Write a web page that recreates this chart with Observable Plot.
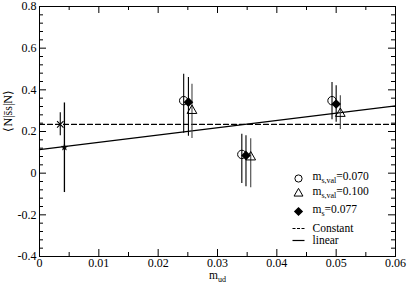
<!DOCTYPE html>
<html>
<head>
<meta charset="utf-8">
<script src="https://cdn.jsdelivr.net/npm/d3@7"></script>
<script src="https://cdn.jsdelivr.net/npm/@observablehq/plot@0.6"></script>
<style>
  html, body { margin: 0; padding: 0; background: white; }
  svg, svg text { font-family: "Liberation Serif", "Times New Roman", serif !important; }
</style>
</head>
<body>
<div id="chart"></div>
<script>
// ---- data ----
const xTicks = [0, 0.01, 0.02, 0.03, 0.04, 0.05, 0.06];
const xTickLabels = ["0", "0.01", "0.02", "0.03", "0.04", "0.05", "0.06"];
const xMinor = [0.005, 0.015, 0.025, 0.035, 0.045, 0.055];
const yTicks = [-0.4, -0.2, 0, 0.2, 0.4, 0.6, 0.8];
const yTickLabels = ["-0.4", "-0.2", "0", "0.2", "0.4", "0.6", "0.8"];
const yMinor = [-0.36, -0.32, -0.28, -0.24, -0.16, -0.12, -0.08, -0.04, 0.04, 0.08, 0.12, 0.16,
                0.24, 0.28, 0.32, 0.36, 0.44, 0.48, 0.52, 0.56, 0.64, 0.68, 0.72, 0.76];

// m_s,val = 0.070 (open circles)
const circX  = [0.0243, 0.0341, 0.0493];
const circY  = [0.348, 0.090, 0.348];
const circLo = [0.192, -0.050, 0.257];
const circHi = [0.475, 0.187, 0.435];
// m_s,val = 0.100 (open triangles)
const triX  = [0.0257, 0.0356, 0.0507];
const triY  = [0.300, 0.077, 0.286];
const triLo = [0.167, -0.070, 0.210];
const triHi = [0.427, 0.165, 0.372];
// m_s = 0.077 (filled diamonds)
const diaX  = [0.0251, 0.0348, 0.0500];
const diaY  = [0.341, 0.085, 0.332];
const diaLo = [0.177, -0.065, 0.245];
const diaHi = [0.459, 0.180, 0.420];

// chiral extrapolations
const constPt = {x: 0.0035, y: 0.234, lo: 0.180, hi: 0.290};
const linPt   = {x: 0.0042, y: 0.124, lo: -0.093, hi: 0.337};

// fit lines
const constLineX = [0, 0.06];
const constLineY = [0.234, 0.234];
const linLineX = [0, 0.06];
const linLineY = [0.113, 0.323];

const legendLabels = ["m_{s,val}=0.070", "m_{s,val}=0.100", "m_{s}=0.077", "Constant", "linear"];
const yLabel = "\u27E8N|s\u0304s|N\u27E9";
const xLabel = "m_{ud}";

// ---- build tables ----
const zip = (xs, ys, lo, hi) => xs.map((x, i) => ({x, y: ys[i], lo: lo[i], hi: hi[i]}));
const circ = zip(circX, circY, circLo, circHi);
const tri = zip(triX, triY, triLo, triHi);
const dia = zip(diaX, diaY, diaLo, diaHi);
const constLine = constLineX.map((x, i) => ({x, y: constLineY[i]}));
const linLine = linLineX.map((x, i) => ({x, y: linLineY[i]}));

const W = 407, H = 283, mL = 39, mR = 12, mT = 6, mB = 27;
const fw = W - mL - mR, fh = H - mT - mB;
const major = 7, minor = 4;
const FONT = "Liberation Serif, Times New Roman, serif";

const lineSym = {draw(ctx) { ctx.moveTo(-6, 0); ctx.lineTo(6, 0); }};

const legendRows = [-78, -63, -45, -28, -16];
const symDx = -97, textDx = -83;

const legendMarks = [
  Plot.dot([0], {frameAnchor: "bottom-right", dx: symDx, dy: legendRows[0], symbol: "circle", r: 3.6, stroke: "black", fill: "none", strokeWidth: 1}),
  Plot.dot([0], {frameAnchor: "bottom-right", dx: symDx, dy: legendRows[1], symbol: "triangle", r: 3.3, stroke: "black", fill: "none", strokeWidth: 1}),
  Plot.dot([0], {frameAnchor: "bottom-right", dx: symDx, dy: legendRows[2], symbol: "diamond2", r: 3.2, fill: "black", stroke: "black"}),
  Plot.dot([0], {frameAnchor: "bottom-right", dx: symDx, dy: legendRows[3], symbol: lineSym, stroke: "black", strokeDasharray: "3,1.5", strokeWidth: 1}),
  Plot.dot([0], {frameAnchor: "bottom-right", dx: symDx, dy: legendRows[4], symbol: lineSym, stroke: "black", strokeWidth: 1.2}),
  ...legendLabels.map((t, i) => Plot.text([t], {text: d => d, frameAnchor: "bottom-right", dx: textDx, dy: legendRows[i] - (i < 3 ? 2 : 0), textAnchor: "start", lineAnchor: "middle", fontSize: 11.5, fontFamily: FONT, fill: "black"}))
];

const chart = Plot.plot({
  width: W, height: H,
  marginLeft: mL, marginRight: mR, marginTop: mT, marginBottom: mB,
  style: "font-family: 'Liberation Serif', 'Times New Roman', serif; font-size: 12px; color: black; background: white;",
  x: {domain: [0, 0.06]},
  y: {domain: [-0.4, 0.8]},
  marks: [
    // ticks (inward)
    Plot.tickX(xTicks, {x: d => d, insetTop: fh - major, stroke: "black"}),
    Plot.tickX(xTicks, {x: d => d, insetBottom: fh - major, stroke: "black"}),
    Plot.tickX(xMinor, {x: d => d, insetTop: fh - minor, stroke: "black"}),
    Plot.tickX(xMinor, {x: d => d, insetBottom: fh - minor, stroke: "black"}),
    Plot.tickY(yTicks, {y: d => d, insetRight: fw - major, stroke: "black"}),
    Plot.tickY(yTicks, {y: d => d, insetLeft: fw - major, stroke: "black"}),
    Plot.tickY(yMinor, {y: d => d, insetRight: fw - minor, stroke: "black"}),
    Plot.tickY(yMinor, {y: d => d, insetLeft: fw - minor, stroke: "black"}),
    Plot.axisX({ticks: xTicks, tickSize: 0, tickPadding: 2, tickFormat: d => xTickLabels[xTicks.indexOf(d)], fontSize: 12, fontFamily: FONT, label: null}),
    Plot.axisY({ticks: yTicks, tickSize: 0, tickPadding: 3, tickFormat: d => yTickLabels[yTicks.indexOf(d)], fontSize: 12, fontFamily: FONT, label: null}),
    // fit lines
    Plot.line(constLine, {x: "x", y: "y", stroke: "black", strokeWidth: 1.2, strokeDasharray: "5,3"}),
    Plot.line(linLine, {x: "x", y: "y", stroke: "black", strokeWidth: 1.2}),
    // error bars
    Plot.ruleX(circ, {x: "x", y1: "lo", y2: "hi", stroke: "black", strokeWidth: 1.1}),
    Plot.ruleX(dia, {x: "x", y1: "lo", y2: "hi", stroke: "black", strokeWidth: 1.1}),
    Plot.ruleX(tri, {x: "x", y1: "lo", y2: "hi", stroke: "#444", strokeWidth: 1.1}),
    Plot.ruleX([constPt], {x: "x", y1: "lo", y2: "hi", stroke: "black", strokeWidth: 1.1}),
    Plot.ruleX([linPt], {x: "x", y1: "lo", y2: "hi", stroke: "black", strokeWidth: 1.3}),
    // markers
    Plot.dot(circ, {x: "x", y: "y", symbol: "circle", r: 4.2, stroke: "black", fill: "none", strokeWidth: 1}),
    Plot.dot(dia, {x: "x", y: "y", symbol: "diamond2", r: 3.4, fill: "black", stroke: "black"}),
    Plot.dot(tri, {x: "x", y: "y", symbol: "triangle", r: 3.6, stroke: "black", fill: "none", strokeWidth: 1}),
    Plot.dot([constPt], {x: "x", y: "y", symbol: "times", r: 3, stroke: "black", strokeWidth: 1.1}),
    Plot.dot([linPt], {x: "x", y: "y", symbol: "star", r: 2, fill: "black", stroke: "black", strokeWidth: 0.5}),
    // labels
    Plot.text([yLabel], {text: d => d, frameAnchor: "left", dx: -31, rotate: -90, fontSize: 12, fontFamily: FONT, fill: "black", lineAnchor: "middle"}),
    Plot.text([xLabel], {text: d => d, frameAnchor: "bottom", dy: 19, fontSize: 11.5, fontFamily: FONT, fill: "black", lineAnchor: "middle"}),
    ...legendMarks,
    Plot.frame({stroke: "black", strokeWidth: 1})
  ]
});

// subscripts: turn "a_{b}c" into tspans
d3.select(chart).selectAll("text").each(function() {
  const t = this.textContent;
  const m = /^(.*?)_\{(.*?)\}(.*)$/.exec(t);
  if (!m) return;
  const sel = d3.select(this);
  sel.text(null);
  sel.append("tspan").text(m[1]);
  sel.append("tspan").attr("dy", 2.5).attr("font-size", 8).text(m[2]);
  if (m[3]) sel.append("tspan").attr("dy", -2.5).text(m[3]);
});

document.getElementById("chart").appendChild(chart);
</script>
</body>
</html>
